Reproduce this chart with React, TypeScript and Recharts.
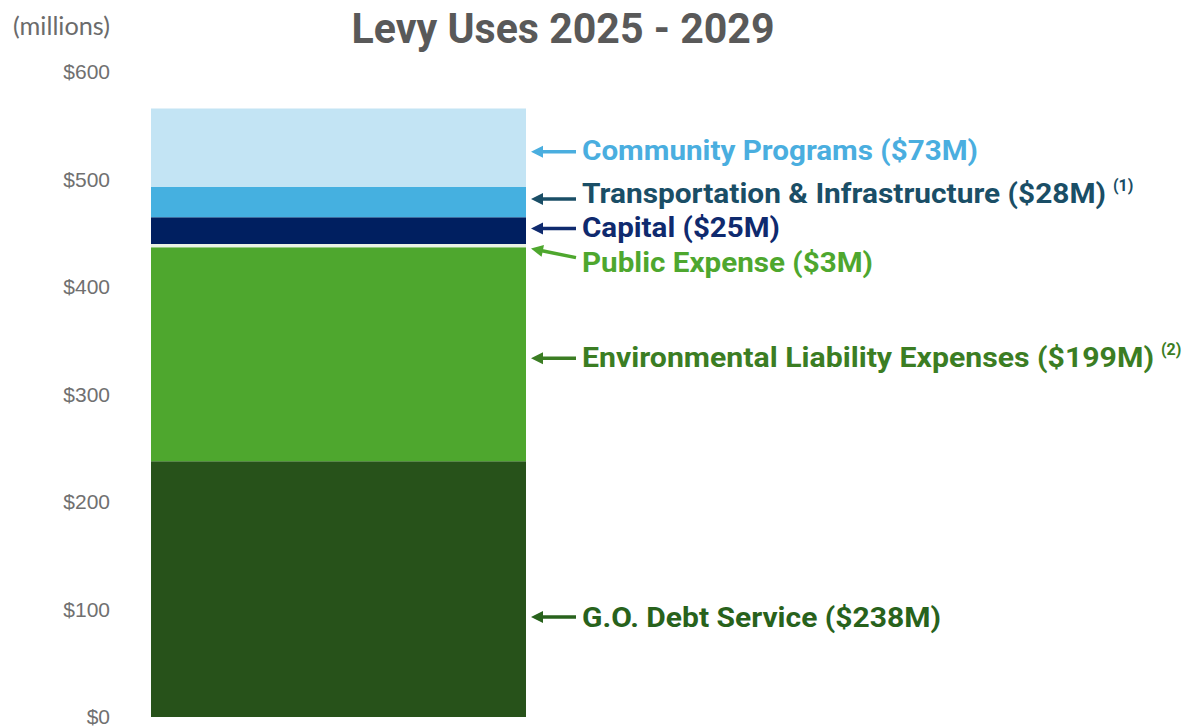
import React from 'react';
import { BarChart, Bar, XAxis, YAxis, LabelList } from 'recharts';

// data
const CATEGORIES = ['2025 - 2029'];
const SEGMENT_KEYS = ['debt', 'env', 'pubexp', 'capital', 'transport', 'community'];
const SEGMENT_NAMES = [
  'G.O. Debt Service',
  'Environmental Liability Expenses',
  'Public Expense',
  'Capital',
  'Transportation & Infrastructure',
  'Community Programs',
];
const SEGMENT_VALUES = [238, 199, 3, 25, 28, 73];
const SEGMENT_NOTES = ['', '(2)', '', '', '(1)', ''];
const Y_TICKS = [0, 100, 200, 300, 400, 500, 600];

const FILLS = ['#27521a', '#4ea72e', '#e9f3e4', '#001f60', '#45b0e0', '#c3e4f4'];
const TEXT_COLORS = ['#28621c', '#3b7d23', '#4ea72e', '#0f2a6e', '#1a4e66', '#4aaedf'];

// label placement relative to segment middle: [arrowTipDy, arrowTailDy, textDy, textWidth]
const LABEL_LAYOUT: Array<[number, number, number, number]> = [
  [28, 28, 29, 359],
  [4, 4, 4, 572],
  [3, 12, 17, 291],
  [-2, -2, -3, 198],
  [-3, -3, -8, 524],
  [4, 4, 3, 396],
];

const row: Record<string, string | number> = { name: CATEGORIES[0] };
SEGMENT_KEYS.forEach((k, i) => {
  row[k] = SEGMENT_VALUES[i];
});
const DATA = [row];

const fmtMoney = (v: number) => `$${v}`;

const makeLabel = (i: number) => (props: any) => {
  const vb = props.viewBox || props;
  const x = Number(vb.x ?? props.x);
  const y = Number(vb.y ?? props.y);
  const w = Number(vb.width ?? props.width);
  const h = Number(vb.height ?? props.height);
  const cy = y + h / 2;
  const [tipDy, tailDy, textDy, textW] = LABEL_LAYOUT[i];
  const color = TEXT_COLORS[i];
  const tipX = x + w + 5;
  const tipY = cy + tipDy;
  const tailX = tipX + 45;
  const tailY = cy + tailDy;
  const ang = Math.atan2(tailY - tipY, tailX - tipX);
  const hl = 12;
  const hw = 6;
  const bx = tipX + Math.cos(ang) * hl;
  const by = tipY + Math.sin(ang) * hl;
  const px = -Math.sin(ang) * hw;
  const py = Math.cos(ang) * hw;
  const textX = tailX + 6;
  const textY = cy + textDy;
  const label = `${SEGMENT_NAMES[i]} (${fmtMoney(SEGMENT_VALUES[i])}M)`;
  return (
    <g>
      <line x1={bx - Math.cos(ang) * 2} y1={by - Math.sin(ang) * 2} x2={tailX} y2={tailY} stroke={color} strokeWidth={3.5} />
      <polygon
        points={`${tipX},${tipY} ${bx + px},${by + py} ${bx - px},${by - py}`}
        fill={color}
      />
      <text
        x={textX}
        y={textY}
        fill={color}
        fontFamily="Roboto, sans-serif"
        fontWeight={700}
        fontSize={27}
        dominantBaseline="central"
        textLength={textW}
        lengthAdjust="spacingAndGlyphs"
      >
        {label}
      </text>
      {SEGMENT_NOTES[i] && (
        <text
          x={textX + textW + 7}
          y={textY - 9}
          fill={color}
          fontFamily="Roboto, sans-serif"
          fontWeight={700}
          fontSize={16}
          dominantBaseline="central"
        >
          {SEGMENT_NOTES[i]}
        </text>
      )}
    </g>
  );
};

export default function App() {
  return (
    <div style={{ position: 'fixed', left: 0, top: 0, width: 1186, height: 727, background: '#fff' }}>
      <BarChart
        width={1186}
        height={727}
        data={DATA}
        margin={{ top: 72, right: 629, bottom: 10, left: 0 }}
        barCategoryGap={31}
      >
        <text
          x={563}
          y={28}
          textAnchor="middle"
          dominantBaseline="central"
          fill="#595959"
          fontFamily="Roboto, sans-serif"
          fontWeight={700}
          fontSize={42}
          textLength={423}
          lengthAdjust="spacingAndGlyphs"
        >
          Levy Uses 2025 - 2029
        </text>
        <text
          x={110}
          y={25}
          textAnchor="end"
          dominantBaseline="central"
          fill="#6b6b6b"
          fontFamily="Lato, sans-serif"
          fontSize={25}
          textLength={97}
          lengthAdjust="spacingAndGlyphs"
        >
          (millions)
        </text>
        <XAxis dataKey="name" hide />
        <YAxis
          width={120}
          domain={[0, 600]}
          ticks={Y_TICKS}
          interval={0}
          tickFormatter={fmtMoney}
          axisLine={false}
          tickLine={false}
          tickSize={0}
          tickMargin={10}
          tick={{ fill: '#707070', fontSize: 21, fontFamily: 'Liberation Sans, Arial, sans-serif' }}
        />
        {SEGMENT_KEYS.map((k, i) => (
          <Bar key={k} dataKey={k} stackId="a" fill={FILLS[i]} isAnimationActive={false}>
            <LabelList dataKey={k} content={makeLabel(i)} />
          </Bar>
        ))}
      </BarChart>
    </div>
  );
}
